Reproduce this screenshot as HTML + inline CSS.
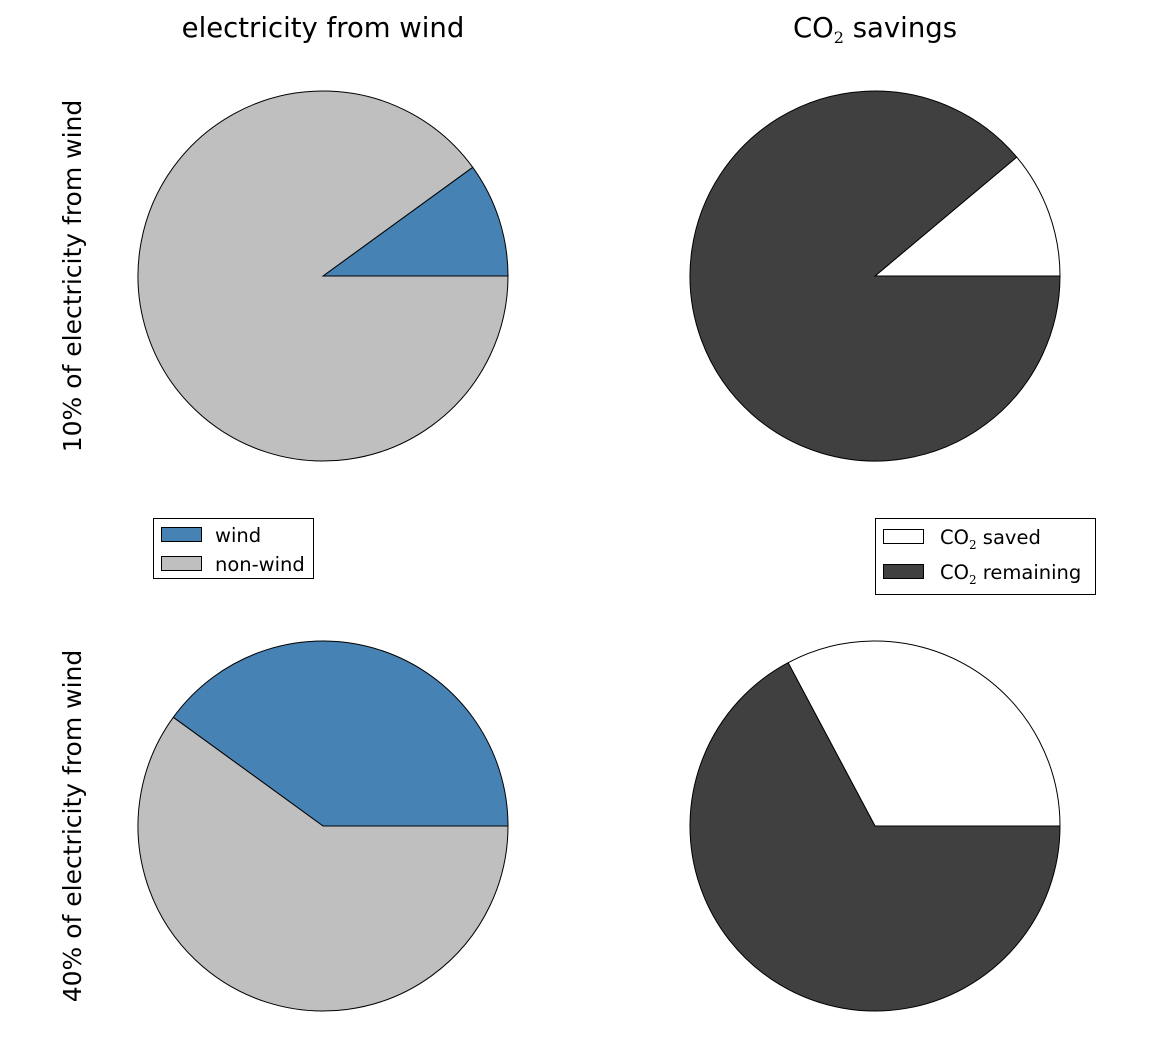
<!DOCTYPE html>
<html><head><meta charset="utf-8"><style>body{margin:0;background:#fff}svg{display:block}</style></head>
<body>
<svg width="1153" height="1058" xmlns="http://www.w3.org/2000/svg" font-family="DejaVu Sans, Liberation Sans, sans-serif">
<rect width="1153" height="1058" fill="#fff"/>
<g stroke="#000" stroke-width="1">
<path d="M323,276 L508,276 A185,185 0 0,0 472.7,167.3 Z" fill="#4682b4"/>
<path d="M323,276 L472.7,167.3 A185,185 0 1,0 508,276 Z" fill="#bfbfbf"/>
<path d="M875,276 L1060,276 A185,185 0 0,0 1016.7,157.1 Z" fill="#fff"/>
<path d="M875,276 L1016.7,157.1 A185,185 0 1,0 1060,276 Z" fill="#404040"/>
<path d="M323,826 L508,826 A185,185 0 0,0 173.3,717.3 Z" fill="#4682b4"/>
<path d="M323,826 L173.3,717.3 A185,185 0 1,0 508,826 Z" fill="#bfbfbf"/>
<path d="M875,826 L1060,826 A185,185 0 0,0 788.1,662.7 Z" fill="#fff"/>
<path d="M875,826 L788.1,662.7 A185,185 0 1,0 1060,826 Z" fill="#404040"/>
</g>
<g font-size="27.5" text-anchor="middle" fill="#000">
<text x="323" y="37">electricity from wind</text>
<text x="875" y="37">CO<tspan font-size="16" dy="6" font-family="DejaVu Serif, serif">2</tspan><tspan dy="-6"> savings</tspan></text>
</g>
<g font-size="25" text-anchor="middle" fill="#000">
<text transform="translate(81,276) rotate(-90)">10% of electricity from wind</text>
<text transform="translate(81,826) rotate(-90)">40% of electricity from wind</text>
</g>
<g stroke="#000" stroke-width="1">
<rect x="153.5" y="518.5" width="160" height="60" fill="#fff"/>
<rect x="161.5" y="527.5" width="40" height="14" fill="#4682b4"/>
<rect x="161.5" y="556.5" width="40" height="14" fill="#bfbfbf"/>
<rect x="875.5" y="518.5" width="220" height="76" fill="#fff"/>
<rect x="883.5" y="529.5" width="40" height="14" fill="#fff"/>
<rect x="883.5" y="564.5" width="40" height="14" fill="#404040"/>
</g>
<g font-size="19.5" fill="#000">
<text x="215" y="542">wind</text>
<text x="215" y="571">non-wind</text>
<text x="940" y="544">CO<tspan font-size="12" dy="5" font-family="DejaVu Serif, serif">2</tspan><tspan dy="-5"> saved</tspan></text>
<text x="940" y="579">CO<tspan font-size="12" dy="5" font-family="DejaVu Serif, serif">2</tspan><tspan dy="-5"> remaining</tspan></text>
</g>
</svg>
</body></html>
